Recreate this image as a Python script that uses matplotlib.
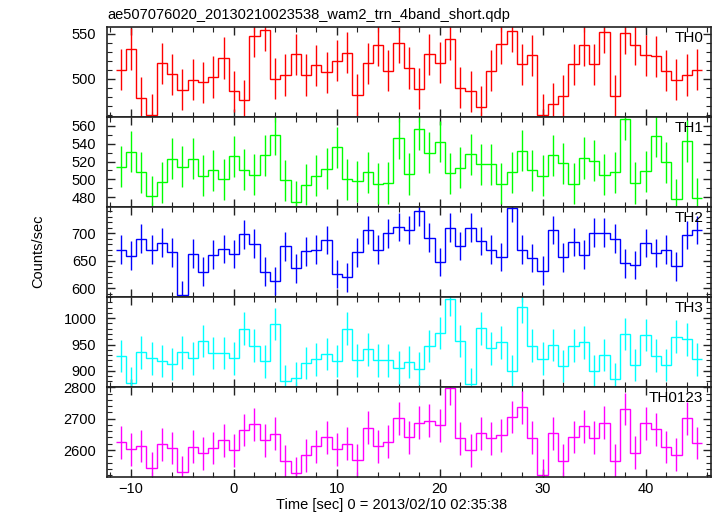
import matplotlib
matplotlib.use("Agg")
import matplotlib.pyplot as plt
import numpy as np
from matplotlib.ticker import MultipleLocator

plt.rcParams['font.family'] = ['Liberation Sans', 'DejaVu Sans']

# bin centres (1 s bins)
time = np.arange(-11, 46)

th0 = [510, 533, 479, 460, 517, 505, 488, 499, 496, 502, 523, 486,
       476, 547, 554, 500, 504, 527, 504, 515, 507, 520, 529, 482, 517, 537,
       509, 540, 512, 489, 527, 518, 544, 490, 486, 469, 509, 539, 553, 516,
       526, 460, 472, 481, 516, 537, 516, 552, 481, 551, 538, 526, 525, 509,
       499, 504, 510]
th1 = [514, 531, 508, 481, 497, 523, 514, 523, 504, 510, 500, 526,
       511, 505, 527, 550, 499, 475, 494, 504, 512, 536, 500, 498, 508, 495,
       496, 546, 506, 556, 530, 542, 507, 513, 528, 517, 517, 495, 508, 532,
       510, 504, 527, 518, 495, 524, 521, 505, 508, 567, 496, 509, 548, 519,
       478, 543, 479]
th2 = [670, 659, 690, 670, 683, 665, 588, 663, 630, 661, 671, 662,
       698, 681, 630, 613, 676, 636, 667, 670, 688, 626, 620, 665, 706, 670,
       700, 711, 706, 740, 692, 648, 710, 677, 710, 686, 670, 657, 746, 670,
       655, 632, 706, 656, 684, 661, 701, 701, 690, 645, 642, 682, 664, 670,
       640, 697, 706]
th3 = [928, 877, 935, 924, 919, 913, 935, 924, 957, 934, 934, 924,
       980, 948, 918, 989, 881, 886, 915, 922, 932, 919, 980, 920, 941, 920,
       920, 906, 917, 904, 947, 972, 1036, 957, 875, 981, 943, 954, 900, 1021,
       948, 923, 949, 909, 948, 954, 900, 930, 884, 970, 911, 968, 929, 911,
       965, 960, 922]
th0123 = [2625, 2602, 2613, 2542, 2618, 2606, 2530, 2611, 2589, 2607, 2631, 2599,
          2664, 2682, 2631, 2652, 2565, 2526, 2583, 2612, 2640, 2602, 2620, 2568,
          2671, 2612, 2627, 2701, 2640, 2687, 2694, 2679, 2797, 2637, 2599, 2653,
          2637, 2647, 2705, 2736, 2639, 2520, 2653, 2566, 2642, 2676, 2639, 2687,
          2566, 2731, 2592, 2685, 2666, 2610, 2585, 2701, 2622]

# typical 1-sigma error per band
errors = [23, 23, 26, 31, 52]
names = ['TH0', 'TH1', 'TH2', 'TH3', 'TH0123']
colors = ['#ff0000', '#00ff00', '#0000ff', '#00ffff', '#ff00ff']
series = [th0, th1, th2, th3, th0123]

# per-panel axis settings
ylims = [(458, 558), (469.6, 570.3), (584.7, 748.4), (870, 1041), (2515, 2802)]
majors = [50, 20, 50, 50, 100]
minors = [10, 10, 10, 10, 20]

fig = plt.figure(figsize=(7.17, 5.16), dpi=100)
left, width = 106.7 / 717, (711 - 106.7) / 717
top, bottom = 1 - 26.5 / 516, 1 - 476.7 / 516
ph = (top - bottom) / 5

edges = np.append(time - 0.5, time[-1] + 0.5)

for i in range(5):
    ax = fig.add_axes([left, top - (i + 1) * ph, width, ph])
    y = np.array(series[i], dtype=float)
    ax.stairs(y, edges, baseline=None, color=colors[i], lw=1.0)
    ax.errorbar(time, y, yerr=errors[i], fmt='none', ecolor=colors[i],
                elinewidth=1.0, capsize=0)
    ax.set_xlim(-12.36, 46.36)
    ax.set_ylim(*ylims[i])
    ax.xaxis.set_major_locator(MultipleLocator(10))
    ax.xaxis.set_minor_locator(MultipleLocator(2))
    ax.yaxis.set_major_locator(MultipleLocator(majors[i]))
    ax.yaxis.set_minor_locator(MultipleLocator(minors[i]))
    ax.tick_params(which='both', direction='in', top=True, right=True,
                   labelsize=10.5, color='#222222')
    ax.tick_params(which='major', length=6, width=1.0)
    ax.tick_params(which='minor', length=3.5, width=0.8)
    ax.tick_params(axis='y', pad=7.5)
    ax.tick_params(axis='x', pad=4)
    for s in ax.spines.values():
        s.set_linewidth(1.2)
        s.set_color('#222222')
    if i < 4:
        ax.tick_params(labelbottom=False)
    ax.text(0.987, 0.83, names[i], transform=ax.transAxes, ha='right',
            va='baseline', fontsize=11)

fig.text(107 / 717, 1 - 19.5 / 516,
         "ae507076020_20130210023538_wam2_trn_4band_short.qdp",
         ha='left', va='baseline', fontsize=10.5)
fig.text(276 / 717, 1 - 509 / 516, "Time [sec] 0 = 2013/02/10 02:35:38",
         ha='left', va='baseline', fontsize=10.5)
fig.text(38 / 717, 1 - 251 / 516, "Counts/sec", rotation=90,
         ha='center', va='center', fontsize=10.5)

fig.savefig("out.png", dpi=100)
